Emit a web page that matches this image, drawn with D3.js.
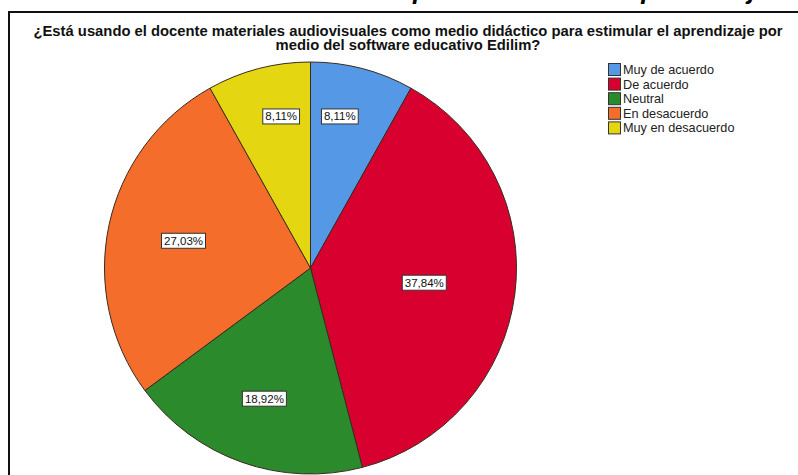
<!DOCTYPE html>
<html>
<head>
<meta charset="utf-8">
<script src="https://cdn.jsdelivr.net/npm/d3@7"></script>
<style>
  body { margin: 0; background: #fff; }
  svg { display: block; font-family: "Liberation Sans", Arial, sans-serif; }
</style>
</head>
<body>
<div id="chart"></div>
<script>
let categories = ["Muy de acuerdo", "De acuerdo", "Neutral", "En desacuerdo", "Muy en desacuerdo"];
let percents = [8.11, 37.84, 18.92, 27.03, 8.11];
let colors = ["#5599e6", "#d8002e", "#2a8a2c", "#f46d2a", "#e4d712"];
let titleLines = ["¿Está usando el docente materiales audiovisuales como medio didáctico para estimular el aprendizaje por",
                  "medio del software educativo Edilim?"];
let pageHeading = "Uso de materiales audiovisuales para estimular el aprendizaje";

let drawChart = function() {
    let w = 798, h = 475;
    let svg = d3.select("#chart").append("svg")
        .attr("width", w)
        .attr("height", h);

    // heading of the page above, mostly cut off
    svg.append("text")
        .attr("x", 4)
        .attr("y", -1)
        .attr("font-size", 26)
        .attr("font-weight", "bold")
        .attr("font-style", "italic")
        .text(pageHeading);

    // frame of the chart
    svg.append("path")
        .attr("d", "M9,480 L9,12 L800,12")
        .attr("fill", "none")
        .attr("stroke", "#111")
        .attr("stroke-width", 2);

    svg.selectAll("text.title")
        .data(titleLines)
      .enter().append("text")
        .attr("class", "title")
        .attr("x", 408)
        .attr("y", function(d, i) { return 35.5 + i * 14; })
        .attr("text-anchor", "middle")
        .attr("font-size", 14.8)
        .attr("font-weight", "bold")
        .attr("fill", "#111")
        .text(function(d) { return d; });

    let cx = 310.5, cy = 268, radius = 206;
    let pie = d3.pie().sort(null).value(function(d) { return d; });
    let arcs = pie(percents);
    let arc = d3.arc().innerRadius(0).outerRadius(radius);

    // label sits a little beyond the geometric centroid of its sector;
    // the thin slices get theirs further out and nearer the split line
    let labelPos = function(d) {
        let half = (d.endAngle - d.startAngle) / 2,
            mid = d.startAngle + half,
            dist = 1.07 * 2 * radius * Math.sin(half) / (3 * half);
        if (d.data < 10) {
            dist = radius * 0.75;
            let edge = Math.abs(d.startAngle) < 1e-6 ? d.startAngle : d.endAngle;
            mid = edge + (mid - edge) * 0.75;
        }
        return [dist * Math.sin(mid), -dist * Math.cos(mid)];
    };

    let g = svg.append("g").attr("transform", "translate(" + cx + "," + cy + ")");
    g.selectAll("path.slice")
        .data(arcs)
      .enter().append("path")
        .attr("class", "slice")
        .attr("d", arc)
        .attr("fill", function(d, i) { return colors[i]; })
        .attr("stroke", "#3a2a20")
        .attr("stroke-width", 1);

    let labels = g.selectAll("g.lbl")
        .data(arcs)
      .enter().append("g")
        .attr("class", "lbl")
        .attr("transform", function(d) {
            let c = labelPos(d);
            return "translate(" + c[0] + "," + c[1] + ")";
        });
    labels.append("text")
        .attr("text-anchor", "middle")
        .attr("dy", "0.36em")
        .attr("font-size", 11.5)
        .attr("fill", "#111")
        .text(function(d) { return d.data.toFixed(2).replace(".", ",") + "%"; });
    labels.each(function() {
        let t = d3.select(this).select("text").node().getBBox();
        d3.select(this).insert("rect", "text")
            .attr("x", t.x - 2.5)
            .attr("y", t.y - 1.5)
            .attr("width", t.width + 5)
            .attr("height", t.height + 3)
            .attr("fill", "#fff")
            .attr("stroke", "#333")
            .attr("stroke-width", 1);
    });

    // legend
    let legend = svg.append("g").attr("transform", "translate(608,63)");
    let rows = legend.selectAll("g.row")
        .data(categories)
      .enter().append("g")
        .attr("class", "row")
        .attr("transform", function(d, i) { return "translate(0," + (i * 14.6) + ")"; });
    rows.append("rect")
        .attr("x", 0.5).attr("y", 0.5)
        .attr("width", 12).attr("height", 12)
        .attr("fill", function(d, i) { return colors[i]; })
        .attr("stroke", "#333");
    rows.append("text")
        .attr("x", 15)
        .attr("y", 11)
        .attr("font-size", 12.7)
        .attr("fill", "#222")
        .text(function(d) { return d; });
};

drawChart();
</script>
</body>
</html>
